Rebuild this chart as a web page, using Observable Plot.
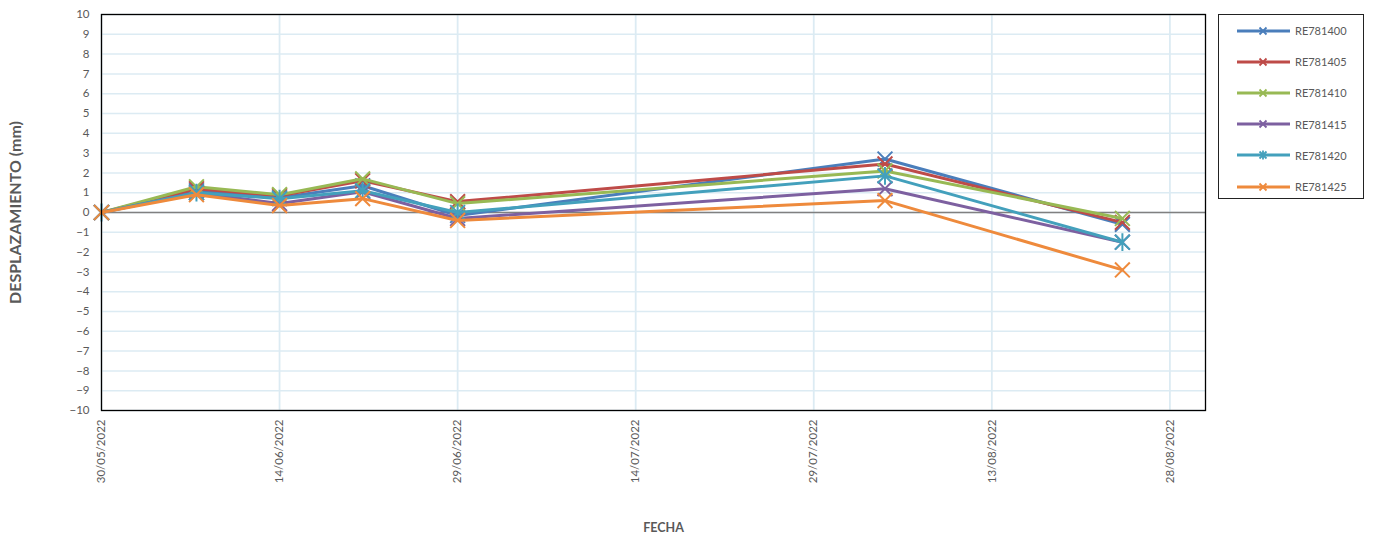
<!DOCTYPE html>
<html>
<head>
<meta charset="utf-8">
<script src="https://cdn.jsdelivr.net/npm/d3@7"></script>
<script src="https://cdn.jsdelivr.net/npm/@observablehq/plot@0.6"></script>
<style>
  body { margin: 0; background: #fff; font-family: Lato, "Noto Sans", sans-serif; }
  #wrap { position: relative; width: 1373px; height: 534px; }
  #legend { position: absolute; left: 1218px; top: 14px; width: 146px; height: 185px; border: 1px solid #222; box-sizing: border-box; }
  .item { position: absolute; left: 0; height: 14px; display: flex; align-items: center; font-size: 11px; color: #595959; }
  .item svg { margin-left: 18px; margin-right: 5px; }
</style>
</head>
<body>
<div id="wrap"><div id="legend"></div></div>
<script>
const dates = ["2022-05-30","2022-06-07","2022-06-14","2022-06-21","2022-06-29","2022-08-04","2022-08-24"];
const seriesNames = ["RE781400","RE781405","RE781410","RE781415","RE781420","RE781425"];
const RE781400 = [0, 1.1, 0.75, 1.35, -0.15, 2.7, -0.6];
const RE781405 = [0, 1.2, 0.85, 1.6, 0.55, 2.45, -0.5];
const RE781410 = [0, 1.3, 0.9, 1.7, 0.45, 2.1, -0.3];
const RE781415 = [0, 1.0, 0.45, 1.05, -0.3, 1.2, -1.5];
const RE781420 = [0, 1.0, 0.7, 1.1, 0.0, 1.85, -1.5];
const RE781425 = [0, 0.9, 0.35, 0.7, -0.4, 0.6, -2.9];
const tickDates = ["2022-05-30","2022-06-14","2022-06-29","2022-07-14","2022-07-29","2022-08-13","2022-08-28"];
const yTicks = d3.range(-10, 11, 1);
const colors = ["#4A7EBB","#BE4B48","#98B954","#7D60A0","#43A0BC","#EE8A3C"];
const yTitle = "DESPLAZAMIENTO (mm)";
const xTitle = "FECHA";

const values = [RE781400, RE781405, RE781410, RE781415, RE781420, RE781425];
const parse = d3.utcParse("%Y-%m-%d");
const data = [];
seriesNames.forEach((s, i) => values[i].forEach((v, j) => data.push({series: s, date: parse(dates[j]), value: v})));
const xt = tickDates.map(parse);

// star marker: X plus vertical line
const star = { draw(ctx, size) { const r = Math.sqrt(size - Math.min(size / 6, 1.7)) * 0.6189;
  ctx.moveTo(-r, -r); ctx.lineTo(r, r); ctx.moveTo(-r, r); ctx.lineTo(r, -r); ctx.moveTo(0, -r * 1.2); ctx.lineTo(0, r * 1.2); } };
const symbols = ["times","times","times","times", star, "times"];

const marks = [
  Plot.gridX(xt, {stroke: "#DCEBF3", strokeOpacity: 1, strokeWidth: 1.8}),
  Plot.gridY(yTicks, {stroke: "#DCEBF3", strokeOpacity: 1, strokeWidth: 1.5}),
  Plot.ruleY([0], {stroke: "#808080", strokeWidth: 1.5}),
  Plot.axisY({ticks: yTicks, tickSize: 0, tickPadding: 12, fontSize: 11.5, color: "#595959", label: null}),
  Plot.axisX({ticks: xt, tickSize: 0, tickPadding: 9, tickRotate: -90, fontSize: 11.5, color: "#595959",
    tickFormat: d3.utcFormat("%d/%m/%Y"), label: null}),
  Plot.text([yTitle], {frameAnchor: "left", dx: -86, rotate: -90, textAnchor: "middle", lineAnchor: "middle",
    fontSize: 16, fontWeight: "bold", fill: "#595959", text: d => d}),
  Plot.text([xTitle], {frameAnchor: "bottom", dy: 117, dx: 10, textAnchor: "middle", lineAnchor: "middle",
    fontSize: 12.5, fontWeight: "bold", fill: "#595959", text: d => d}),
];
seriesNames.forEach((s, i) => {
  const d = data.filter(e => e.series === s);
  marks.push(Plot.line(d, {x: "date", y: "value", stroke: colors[i], strokeWidth: 3}));
  marks.push(Plot.dot(d, {x: "date", y: "value", stroke: colors[i], symbol: symbols[i], r: 6.8, strokeWidth: 2}));
});
marks.push(Plot.frame({stroke: "#000", strokeWidth: 1.3}));

const chart = Plot.plot({
  width: 1373, height: 534,
  marginLeft: 101, marginRight: 168, marginTop: 14, marginBottom: 124,
  style: {fontFamily: "Lato, 'Noto Sans', sans-serif", color: "#595959", background: "#fff"},
  x: {type: "utc", domain: [parse("2022-05-30"), parse("2022-08-31")]},
  y: {domain: [-10, 10]},
  marks
});
document.getElementById("wrap").prepend(chart);
chart.style.position = "absolute"; chart.style.left = "0"; chart.style.top = "0";

const legend = document.getElementById("legend");
seriesNames.forEach((s, i) => {
  const div = document.createElement("div");
  div.className = "item";
  div.style.top = (8.5 + i * 31.2) + "px";
  const isStar = i === 4;
  div.innerHTML = `<svg width="53" height="14"><line x1="0" y1="7" x2="53" y2="7" stroke="${colors[i]}" stroke-width="3"/>
    <path d="M22.5,3.5L29.5,10.5M22.5,10.5L29.5,3.5${isStar ? "M26,2.5L26,11.5" : ""}" stroke="${colors[i]}" stroke-width="1.8" fill="none"/></svg><span>${s}</span>`;
  legend.appendChild(div);
});
</script>
</body>
</html>
